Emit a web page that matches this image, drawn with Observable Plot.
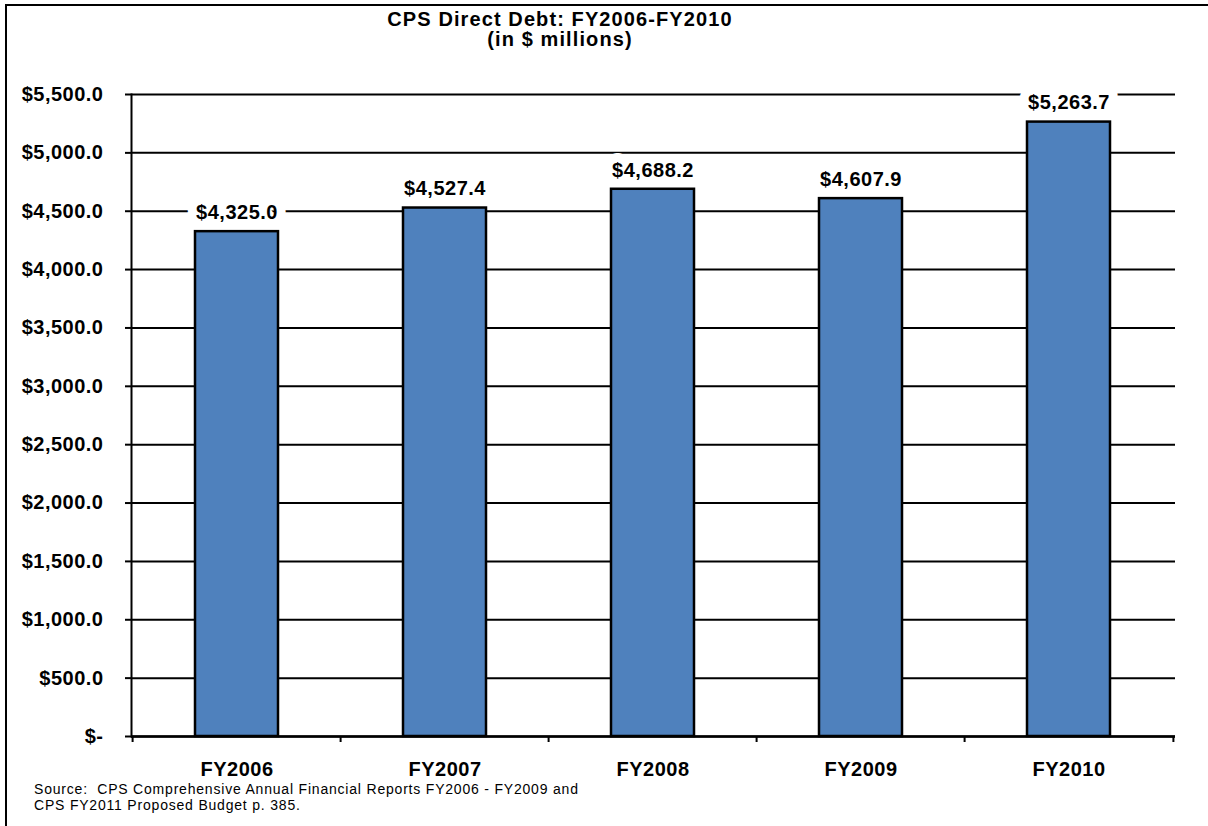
<!DOCTYPE html>
<html>
<head>
<meta charset="utf-8">
<script src="https://cdn.jsdelivr.net/npm/d3@7"></script>
<script src="https://cdn.jsdelivr.net/npm/@observablehq/plot@0.6"></script>
<style>
  html, body { margin: 0; padding: 0; background: #fff; }
  #wrap { position: relative; width: 1208px; height: 826px; overflow: hidden; font-family: "Liberation Sans", Arial, sans-serif; }
  #border { position: absolute; left: 5px; top: 4px; width: 1220px; height: 840px; border-left: 2.5px solid #000; border-top: 2.5px solid #000; box-sizing: border-box; }
  #title { position: absolute; left: 0; top: 9px; width: 1120px; text-align: center; font-size: 20px; font-weight: bold; line-height: 20px; letter-spacing: 1.1px; color: #000; }
  #source { position: absolute; left: 34px; top: 781px; font-size: 14px; line-height: 16px; letter-spacing: 0.8px; color: #000; }
  #chart { position: absolute; left: 0; top: 0; }
  .cps text { letter-spacing: 0.5px; }
</style>
</head>
<body>
<div id="wrap">
  <div id="chart"></div>
  <div id="border"></div>
  <div id="title">CPS Direct Debt: FY2006-FY2010<br>(in $ millions)</div>
  <div id="source">Source:&nbsp; CPS Comprehensive Annual Financial Reports FY2006 - FY2009 and<br>CPS FY2011 Proposed Budget p. 385.</div>
</div>
<script>
const categories = ["FY2006", "FY2007", "FY2008", "FY2009", "FY2010"];
const debt = [4325.0, 4527.4, 4688.2, 4607.9, 5263.7];
const yTicks = [0, 500, 1000, 1500, 2000, 2500, 3000, 3500, 4000, 4500, 5000, 5500];

const data = categories.map((c, i) => ({year: c, value: debt[i]}));
const money = d3.format("$,.1f");
const yFmt = d => d === 0 ? "$-" : money(d);

const W = 1208, H = 790, ML = 131, MR = 33, MT = 94, MB = 54;
const step = (W - ML - MR) / categories.length;

const chart = Plot.plot({
  width: W,
  height: H,
  marginLeft: ML,
  marginRight: MR,
  marginTop: MT,
  marginBottom: MB,
  className: "cps",
  style: {fontFamily: "'Liberation Sans', Arial, sans-serif", fontSize: "20px", fontWeight: "bold", color: "#000", background: "transparent"},
  x: {domain: categories, paddingInner: 0.6, paddingOuter: 0.3, label: null},
  y: {domain: [0, 5500], label: null},
  marks: [
    Plot.gridY(yTicks, {stroke: "#000", strokeOpacity: 1, strokeWidth: 2}),
    Plot.text(data, {x: "year", y: "value", text: d => money(d.value), dy: -19, fontSize: 20, fontWeight: "bold", fill: "#000", stroke: "#fff", strokeWidth: 18}),
    Plot.barY(data, {x: "year", y: "value", fill: "#4F81BD", stroke: "#000", strokeWidth: 2.5}),
    Plot.ruleY([0], {stroke: "#000", strokeWidth: 2.5}),
    Plot.frame({anchor: "left", stroke: "#000", strokeWidth: 2}),
    Plot.axisY({ticks: yTicks, tickSize: 6, tickPadding: 22, tickFormat: yFmt, strokeWidth: 2, fontSize: 20, fontWeight: "bold", label: null}),
    Plot.axisX({tickSize: 0, tickPadding: 25, fontSize: 20, fontWeight: "bold", label: null}),
    Plot.axisX({tickSize: 6, tickFormat: () => "", dx: -step / 2, strokeWidth: 2, label: null}),
    Plot.axisX({ticks: [categories[categories.length - 1]], tickSize: 6, tickFormat: () => "", dx: step / 2, strokeWidth: 2, label: null})
  ]
});
document.getElementById("chart").appendChild(chart);
</script>
</body>
</html>
